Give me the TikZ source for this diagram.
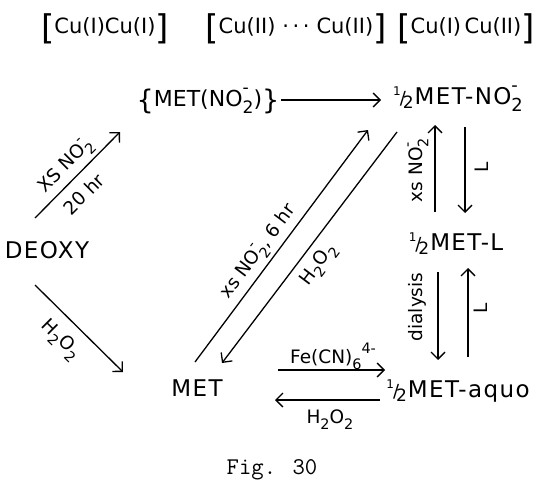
\documentclass[tikz,border=0pt]{standalone}
\usepackage{fontspec}
\usepackage{graphicx}
\setmainfont{DejaVu Sans}
\newfontfamily\bigf{DejaVu Sans}[LetterSpace=6]
\usetikzlibrary{arrows.meta}
\newcommand\sbs[1]{\raisebox{-0.32em}{\scalebox{0.78}{#1}}}
\newcommand\sps[1]{\raisebox{0.55em}{\scalebox{0.78}{#1}}}
\newcommand\nit{NO\rlap{\sps{-}}\sbs{2}}
\newcommand\hp{H\sbs{2}O\sbs{2}}
\newcommand\half{\raisebox{9pt}{\fontsize{12}{12}\selectfont 1}\kern-1pt{\fontsize{18}{18}\selectfont/}\kern-3pt\raisebox{-4pt}{\fontsize{17}{17}\selectfont 2}\kern1pt}
\newcommand\lb{\raisebox{-6pt}{\fontsize{34}{34}\selectfont[}}
\newcommand\rb{\raisebox{-6pt}{\fontsize{34}{34}\selectfont]}}
\newcommand\lbr{\raisebox{-3pt}{\fontsize{27}{27}\selectfont\{}}
\newcommand\rbr{\raisebox{-3pt}{\fontsize{27}{27}\selectfont\}}}
\begin{document}
\begin{tikzpicture}[x=1pt,y=-1pt,
  big/.style={font=\bigf\fontsize{23}{26}\selectfont, inner sep=0pt},
  cu/.style={font=\fontsize{21}{23}\selectfont, inner sep=0pt},
  sm/.style={font=\fontsize{18.5}{20}\selectfont, inner sep=0pt},
  arr/.style={line width=1.3pt, -{Straight Barb[length=7pt,width=14pt,line width=1.3pt]}}]
\useasboundingbox (0,0) rectangle (535,479);
% top labels
\node[cu] (cu1) at (105,29) {\lb Cu(I)Cu(I)\rb};
\node[cu] (cu2) at (296,29) {\lb Cu(II)\,\,·\,·\,·\,\,Cu(II)\rb};
\node[cu] (cu3) at (466,29) {\lb Cu(I)\,Cu(II)\rb};
% species
\node[font=\fontsize{22}{26}\selectfont, inner sep=0pt] (metnit) at (208,101) {\lbr MET(\nit)\rbr};
\node[big] (halfnit) at (458,99) {\half MET-\nit};
\node[big] (deoxy) at (47,250) {DEOXY};
\node[big] (halfL) at (456,244) {\half MET-L};
\node[big] (met) at (197,388) {MET};
\node[big] (halfaq) at (458,391) {\half MET-aquo};
\node[font=\ttfamily\fontsize{24}{26}\selectfont, inner sep=0pt] (fig) at (272,470) {Fig. 30};
% arrow end points
\coordinate (a1s) at (35,218);  \coordinate (a1e) at (120,132);
\coordinate (a2s) at (35,285);  \coordinate (a2e) at (123,372);
\coordinate (a3s) at (281,100); \coordinate (a3e) at (381,100);
\coordinate (a4s) at (195,362); \coordinate (a4e) at (368,130);
\coordinate (a5s) at (397,132); \coordinate (a5e) at (222,363);
\coordinate (a6s) at (435,212); \coordinate (a6e) at (435,125);
\coordinate (a7s) at (465,127); \coordinate (a7e) at (465,213);
\coordinate (a8s) at (438,272); \coordinate (a8e) at (438,360);
\coordinate (a9s) at (468,357); \coordinate (a9e) at (468,268);
\coordinate (a10s) at (278,370); \coordinate (a10e) at (385,370);
\coordinate (a11s) at (380,400); \coordinate (a11e) at (275,400);
\foreach \i in {1,...,11} {\draw[arr] (a\i s) -- (a\i e);}
% labels
\node[sm, rotate=45] (l1) at (66,166) {XS \nit};
\node[sm, rotate=45] (l2) at (84,194) {20 hr};
\node[sm, rotate=-45] (l3) at (60,340) {\hp};
\node[sm, rotate=53] (l4) at (259,252) {xs \nit, 6 hr};
\node[sm, rotate=53] (l5) at (319,265) {\hp};
\node[sm, rotate=90] (l6) at (418,170) {xs \nit};
\node[sm, rotate=90] (l7) at (482,167) {L};
\node[sm, rotate=90] (l8) at (417,307) {dialysis};
\node[sm, rotate=90] (l9) at (481,308) {L};
\node[sm] (l10) at (333,356) {Fe(CN)\sbs{6}\sps{4-}};
\node[sm] (l11) at (330,420) {\hp};
\end{tikzpicture}
\end{document}
